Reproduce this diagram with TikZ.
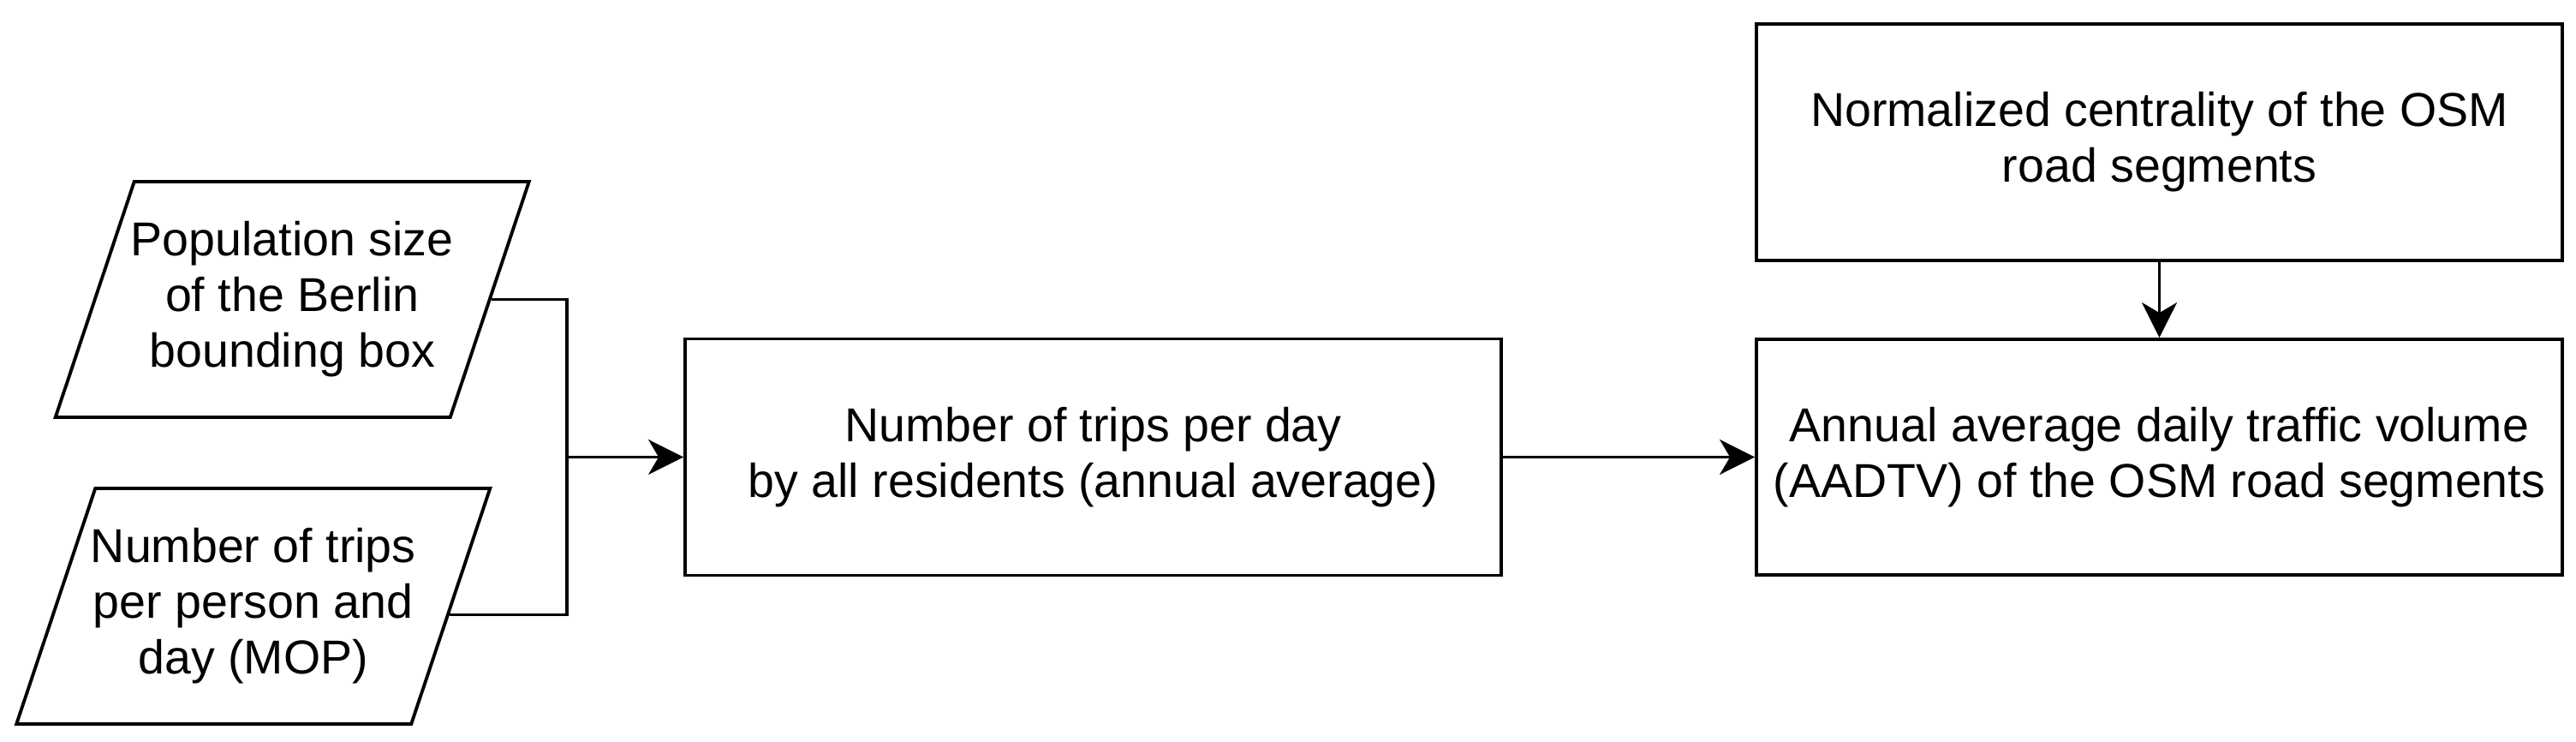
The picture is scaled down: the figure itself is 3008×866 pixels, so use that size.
\documentclass[tikz,border=0pt]{standalone}
\usepackage{fontspec}
\setmainfont{Liberation Sans}
\usetikzlibrary{shapes.geometric,arrows.meta,calc}
\newcommand\paratext[1]{\rule[-12.4mm]{0pt}{27.5mm}\makebox[0pt]{\begin{tabular}{@{}c@{}}#1\end{tabular}}}
\begin{document}
\begin{tikzpicture}[x=0.1mm,y=-0.1mm,
  txt/.style={font=\fontsize{15.8pt}{18.5pt}\selectfont, align=center},
  box/.style={txt, draw, line width=1.1pt, rectangle, inner sep=0pt,
    minimum width=94.1mm, minimum height=27.6mm},
  para/.style={font=\fontsize{15.8pt}{18.5pt}\selectfont, draw, line width=1.1pt, trapezium,
    trapezium left angle=71.5, trapezium right angle=108.5,
    trapezium stretches body=true, minimum width=55.3mm, minimum height=27.5mm,
    inner sep=0pt},
  link/.style={line width=0.95pt},
  arr/.style={link, -{Stealth[length=4.1mm, width=4.1mm, inset=1.2mm]}}]
\useasboundingbox (0,0) rectangle (3008,866);

\node[para] (p1) at (341.25,349.5) {\paratext{Population size\\of the Berlin\\bounding box}};
\node[para] (p2) at (295.75,707.5) {\paratext{Number of trips\\per person and\\day (MOP)}};
\node[box, minimum width=95.3mm] (mid) at (1276.5,533.5) {Number of trips per day\\by all residents (annual average)};
\node[box] (rt) at (2521.5,166) {Normalized centrality of the OSM\\road segments};
\node[box, minimum height=27.5mm] (rb) at (2521.5,533.5) {Annual average daily traffic volume\\(AADTV) of the OSM road segments};

\coordinate (j) at (662,533.5);
\coordinate (p2out) at ($(p2.top right corner)!0.535!(p2.bottom right corner)$);

\draw[link] (p1.east) -| (j);
\draw[link] (p2out) -| (j);
\draw[arr] (j) -- (j -| mid.west);
\draw[arr] (mid.east) -- (rb.west);
\draw[arr] (rt.south) -- (rb.north);
\end{tikzpicture}
\end{document}
